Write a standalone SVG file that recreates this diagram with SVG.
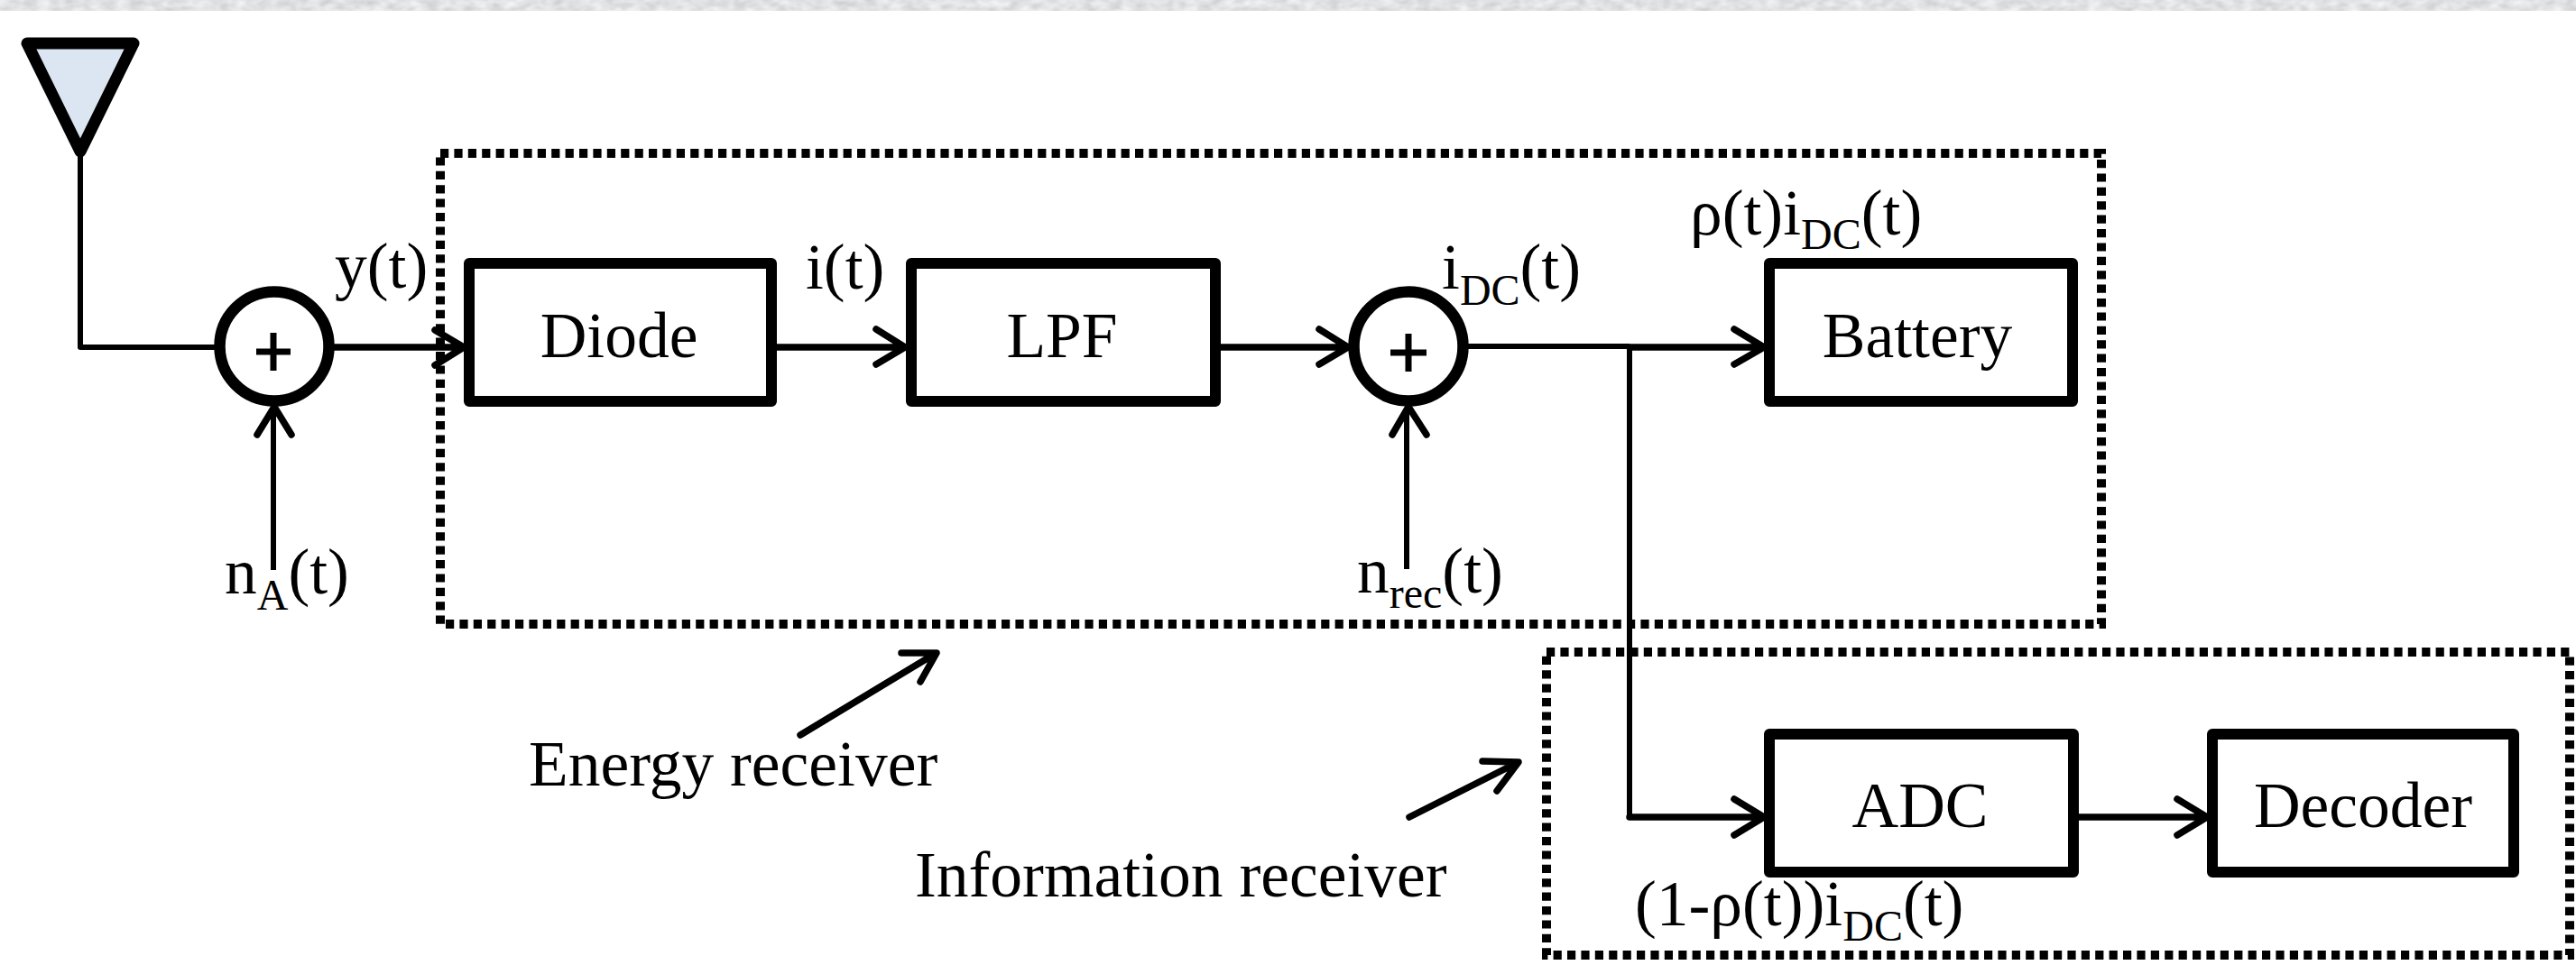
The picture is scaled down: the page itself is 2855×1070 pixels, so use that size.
<svg xmlns="http://www.w3.org/2000/svg" width="2855" height="1070" viewBox="0 0 2855 1070">
<defs>
<style>
.t{font-family:"Liberation Serif","Times New Roman",serif;font-size:71.5px;fill:#000}
.sub{font-size:48px}
.box{fill:#fff;stroke:#000;stroke-width:12;stroke-linejoin:round}
.sum{fill:#fff;stroke:#000;stroke-width:12.5}
.ln{fill:none;stroke:#000;stroke-width:6;stroke-linejoin:round;stroke-linecap:butt}
.th{fill:none;stroke:#000;stroke-width:7.5;stroke-linejoin:round;stroke-linecap:round}
.pl{fill:none;stroke:#000;stroke-width:7}
.dot{fill:none;stroke:#000;stroke-width:10;stroke-dasharray:9.2 6.2}
</style>
<filter id="grain" x="0" y="0" width="100%" height="100%">
<feTurbulence type="fractalNoise" baseFrequency="0.07 0.12" numOctaves="2" seed="4"/>
<feColorMatrix type="matrix" values="0.4 0 0 0 0.55  0.4 0 0 0 0.56  0.4 0 0 0 0.57  0 0 0 0 1"/>
</filter>
</defs>
<rect width="2855" height="1070" fill="#fff"/>
<rect id="band" width="2855" height="12" filter="url(#grain)"/>
<g id="receivers">
<rect class="dot" x="488" y="170" width="1841" height="522"/>
<rect class="dot" x="1714" y="723" width="1134" height="336"/>
</g>
<g id="connectors">
<path class="ln" d="M89 170V385H242"/>
<path class="th" d="M370 385H510M482 366L514 385L482 405"/>
<path class="ln" d="M303 632V456"/><path class="th" d="M285 482L304 451L323 482"/>
<path class="th" d="M861 385H1000M971 365L1003 385L971 404"/>
<path class="th" d="M1352 385H1490M1462 365L1494 385L1462 404"/>
<path class="ln" d="M1559 631V456"/><path class="th" d="M1543 482L1561 451L1581 482"/>
<path class="ln" d="M1626 384H1806"/>
<path class="th" d="M1806 385H1951M1922 365L1955 385L1922 404"/>
<path class="ln" d="M1806 384V906"/>
<path class="th" d="M1806 906H1951M1922 886L1955 906L1922 926"/>
<path class="th" d="M2304 906H2442M2413 886L2446 906L2413 926"/>
<path class="th" d="M887 815L1036 725M999 724L1038 724L1020 756"/>
<path class="th" d="M1562 906L1681 846M1643 844L1683 845L1659 877"/>
</g>
<g id="antenna"><path d="M30 48H148L89 168Z" fill="#dce6f2" stroke="#000" stroke-width="13" stroke-linejoin="round"/></g>
<g id="sum1"><circle class="sum" cx="304" cy="384" r="60.5"/><path class="pl" d="M284 390H322M303 369V411"/></g>
<g id="sum2"><circle class="sum" cx="1561" cy="384" r="60.5"/><path class="pl" d="M1541 391H1581M1561 370V412"/></g>
<g id="diode"><rect class="box" x="520" y="292" width="335" height="153"/><text class="t" x="686" y="396" text-anchor="middle">Diode</text></g>
<g id="lpf"><rect class="box" x="1010" y="292" width="337" height="153"/><text class="t" x="1177" y="396" text-anchor="middle">LPF</text></g>
<g id="battery"><rect class="box" x="1961" y="292" width="336" height="153"/><text class="t" x="2125" y="396" text-anchor="middle">Battery</text></g>
<g id="adc"><rect class="box" x="1961" y="814" width="337" height="153"/><text class="t" x="2128" y="917" text-anchor="middle">ADC</text></g>
<g id="decoder"><rect class="box" x="2452" y="814" width="334" height="153"/><text class="t" x="2619" y="917" text-anchor="middle">Decoder</text></g>
<g id="labels">
<text class="t" x="371" y="319">y(t)</text>
<text class="t" x="893" y="320">i(t)</text>
<text class="t" x="1598" y="320">i<tspan class="sub" dy="18">DC</tspan><tspan dy="-18">(t)</tspan></text>
<text class="t" x="1873" y="260">ρ(t)i<tspan class="sub" dy="16">DC</tspan><tspan dy="-16">(t)</tspan></text>
<text class="t" x="249" y="658">n<tspan class="sub" dy="18">A</tspan><tspan dy="-18">(t)</tspan></text>
<text class="t" x="1504" y="657">n<tspan class="sub" dy="17">rec</tspan><tspan dy="-17">(t)</tspan></text>
<text class="t" x="1812" y="1026">(1-ρ(t))i<tspan class="sub" dy="17">DC</tspan><tspan dy="-17">(t)</tspan></text>
<text class="t" x="586" y="871">Energy receiver</text>
<text class="t" x="1014" y="994">Information receiver</text>
</g>
</svg>
